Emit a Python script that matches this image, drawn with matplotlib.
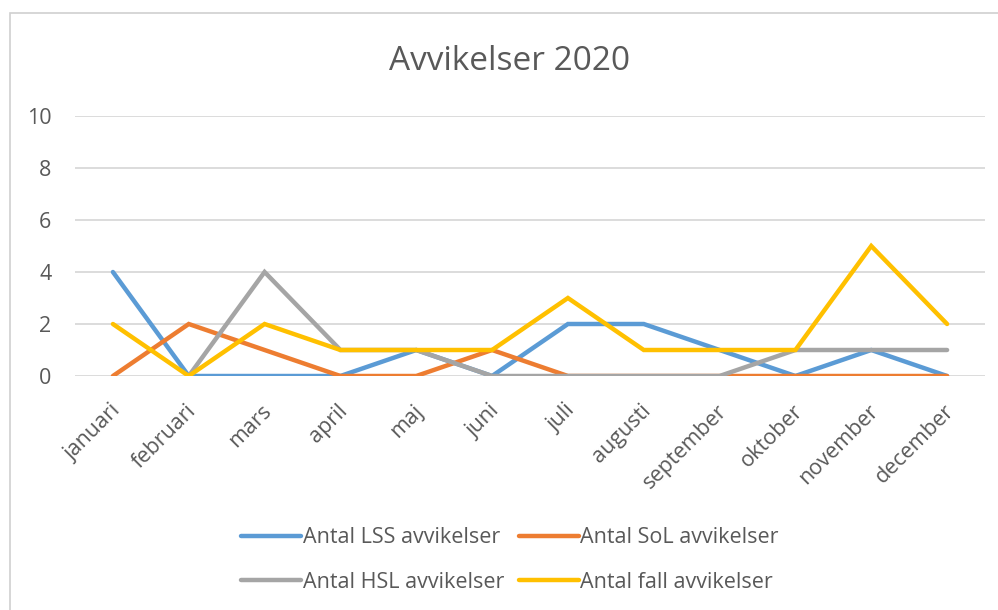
import numpy as np
import matplotlib
matplotlib.use("Agg")
import matplotlib.pyplot as plt
import matplotlib.transforms as mtrans
from matplotlib.patches import Rectangle

months = ["januari", "februari", "mars", "april", "maj", "juni", "juli",
          "augusti", "september", "oktober", "november", "december"]
lss = [4, 0, 0, 0, 1, 0, 2, 2, 1, 0, 1, 0]
sol = [0, 2, 1, 0, 0, 1, 0, 0, 0, 0, 0, 0]
hsl = [np.nan, 0, 4, 1, 1, 0, 0, 0, 0, 1, 1, 1]
fall = [2, 0, 2, 1, 1, 1, 3, 1, 1, 1, 5, 2]
yticks = [0, 2, 4, 6, 8, 10]
title = "Avvikelser 2020"
labels = ["Antal LSS avvikelser", "Antal SoL avvikelser",
          "Antal HSL avvikelser", "Antal fall avvikelser"]
colors = ["#5B9BD5", "#ED7D31", "#A5A5A5", "#FFC000"]

plt.rcParams['font.family'] = ['Open Sans', 'DejaVu Sans']
txt = "#595959"

fig = plt.figure(figsize=(9.98, 6.10), dpi=100)
fig.patches.append(Rectangle((10/998, -0.05), 1.1, 1 - 13/610 + 0.05,
                             transform=fig.transFigure, fill=False,
                             edgecolor="#D0D0D0", linewidth=1.2))

ax = fig.add_axes([75/998, 1 - 376/610, (985 - 75)/998, (376 - 116)/610])
x = np.arange(len(months))
lines = []
for vals, c, lab in zip([lss, sol, hsl, fall], colors, labels):
    l, = ax.plot(x, vals, color=c, linewidth=3.2, label=lab,
                 solid_joinstyle='miter', solid_capstyle='round')
    lines.append(l)

ax.set_xlim(-0.5, len(months) - 0.5)
ax.set_ylim(0, 10)
ax.set_yticks(yticks)
ax.set_xticks(x)
ax.set_xticklabels(months, rotation=45, ha='right', va='center',
                   rotation_mode='anchor')
ax.tick_params(axis='both', length=0, labelsize=15.5, colors=txt)
ax.tick_params(axis='x', pad=23)
ax.tick_params(axis='y', pad=17)
off = mtrans.ScaledTranslation(4/100, 0, fig.dpi_scale_trans)
for lbl in ax.get_xticklabels():
    lbl.set_transform(lbl.get_transform() + off)
ax.grid(axis='y', color="#D9D9D9", linewidth=1.3)
ax.set_axisbelow(True)
for s in ax.spines.values():
    s.set_visible(False)

fig.text(510/998, 1 - 62/610, title, ha='center', va='center',
         fontsize=24, color=txt)

fig.legend([lines[0], lines[2], lines[1], lines[3]],
           [labels[0], labels[2], labels[1], labels[3]],
           loc='center', bbox_to_anchor=(510/998, 1 - 560/610), ncol=2,
           frameon=False, fontsize=15.5, labelcolor=txt, handlelength=2.8,
           handletextpad=0.05, columnspacing=0.7, labelspacing=1.07)

fig.savefig("out.png", dpi=100, facecolor="white")
